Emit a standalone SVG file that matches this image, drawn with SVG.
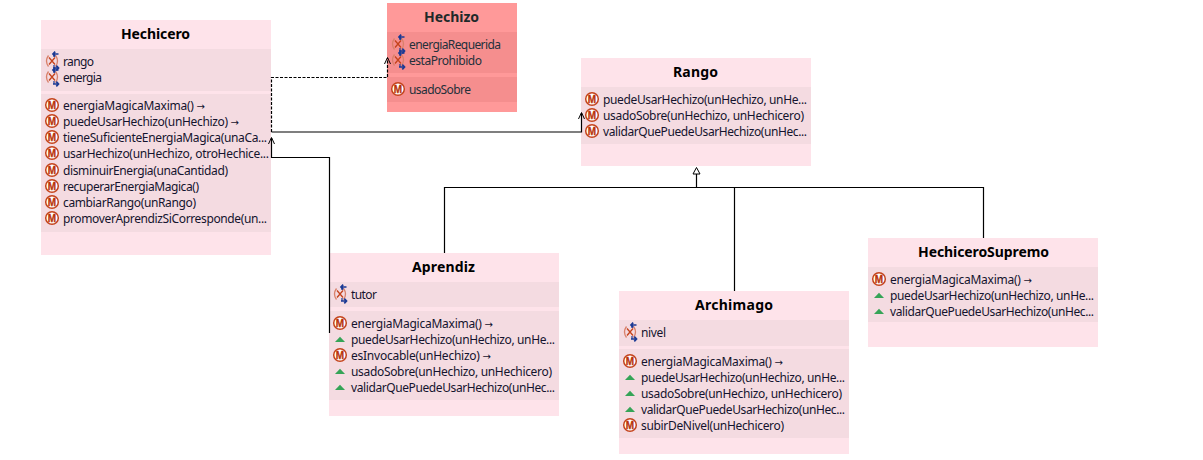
<svg xmlns="http://www.w3.org/2000/svg" xmlns:xlink="http://www.w3.org/1999/xlink" width="1203" height="460" viewBox="0 0 1203 460">
<style>
text{font-family:"Noto Sans","Open Sans",sans-serif;font-size:12px;fill:#14142e;transform:translateY(.5px)}
.t{font-size:14px;font-weight:bold;text-anchor:middle;fill:#000}
.b{fill:#fee3ea}.c{fill:#f4dbe1}.r{fill:#ff9999}.rc{fill:#f58e8e}
.dk{fill:#24303a}
.a{font-family:"DejaVu Sans",sans-serif;font-size:10px}
.ln{fill:none;stroke:#000;stroke-width:1.2}
.ar{fill:none;stroke:#000;stroke-width:1}
.m{font-size:10px;font-weight:bold;text-anchor:middle;fill:#b8320a;stroke:#b8320a;stroke-width:.3;font-family:"Liberation Sans",sans-serif;transform:none}
</style>
<defs>
<g id="im"><circle r="6.300" fill="#fff" stroke="#c4431c" stroke-width="1.500"/><text class="m" y="3.600">M</text></g>
<g id="if"><path d="M-3.500-5.500Q-7.500 0-3.500 5.500M3.500-5.500Q7.500 0 3.500 5.500" fill="none" stroke="#d9806a" stroke-width="1.300"/><path d="M-3-3.500L3 3.500M3-3.500L-3 3.500" stroke="#c4431c" stroke-width="1.300"/><path d="M6.500-7H1M3.200-9.300L1-7L3.200-4.700M1 7H6.500M4.300 4.700L6.500 7L4.300 9.300" fill="none" stroke="#1b3a94" stroke-width="1.700"/><path d="M2-7V-4M2 7V4" stroke="#1b3a94" stroke-width="1.200"/></g>
<path id="ig" d="M-5 3L0-2.200L5 3Z" fill="#35a457"/>
</defs>
<g id="Hechicero">
<rect class="b" x="41" y="20" width="230" height="235"/>
<rect class="c" x="41" y="49" width="230" height="42"/>
<rect class="c" x="41" y="94" width="230" height="138"/>
<text class="t" x="155.500" y="38" textLength="69">Hechicero</text>
<use xlink:href="#if" x="52" y="61"/><text x="63" y="65" textLength="31">rango</text>
<use xlink:href="#if" x="52" y="77"/><text x="63" y="81" textLength="39">energia</text>
<use xlink:href="#im" x="52" y="105"/><text x="63" y="109" textLength="142">energiaMagicaMaxima() <tspan class="a">→</tspan></text>
<use xlink:href="#im" x="52" y="121"/><text x="63" y="125" textLength="176">puedeUsarHechizo(unHechizo) <tspan class="a">→</tspan></text>
<use xlink:href="#im" x="52" y="137"/><text x="63" y="141" textLength="204">tieneSuficienteEnergiaMagica(unaCa...</text>
<use xlink:href="#im" x="52" y="153"/><text x="63" y="157" textLength="206">usarHechizo(unHechizo, otroHechice...</text>
<use xlink:href="#im" x="52" y="170"/><text x="63" y="174" textLength="165">disminuirEnergia(unaCantidad)</text>
<use xlink:href="#im" x="52" y="186"/><text x="63" y="190" textLength="136">recuperarEnergiaMagica()</text>
<use xlink:href="#im" x="52" y="202"/><text x="63" y="206" textLength="133">cambiarRango(unRango)</text>
<use xlink:href="#im" x="52" y="218"/><text x="63" y="222" textLength="204">promoverAprendizSiCorresponde(un...</text>
</g>
<g id="Hechizo">
<rect class="r" x="387" y="3" width="130" height="109"/>
<rect class="rc" x="387" y="32" width="130" height="41"/>
<rect class="rc" x="387" y="77" width="130" height="25"/>
<text class="t" x="451.500" y="21" textLength="55" style="fill:#1e2a2a">Hechizo</text>
<use xlink:href="#if" x="398" y="44"/><text class="dk" x="409" y="48" textLength="92">energiaRequerida</text>
<use xlink:href="#if" x="398" y="60"/><text class="dk" x="409" y="64" textLength="73">estaProhibido</text>
<use xlink:href="#im" x="398" y="89"/><text class="dk" x="409" y="93" textLength="62">usadoSobre</text>
</g>
<g id="Rango">
<rect class="b" x="581" y="58" width="230" height="108"/>
<rect class="c" x="581" y="87" width="230" height="57"/>
<text class="t" x="695.500" y="76" textLength="45">Rango</text>
<use xlink:href="#im" x="592" y="99"/><text x="603" y="103" textLength="204">puedeUsarHechizo(unHechizo, unHe...</text>
<use xlink:href="#im" x="592" y="115"/><text x="603" y="119" textLength="201">usadoSobre(unHechizo, unHechicero)</text>
<use xlink:href="#im" x="592" y="131"/><text x="603" y="135" textLength="204">validarQuePuedeUsarHechizo(unHec...</text>
</g>
<g id="Aprendiz">
<rect class="b" x="329" y="253" width="230" height="163"/>
<rect class="c" x="329" y="282" width="230" height="25"/>
<rect class="c" x="329" y="311" width="230" height="89"/>
<text class="t" x="443.500" y="271" textLength="63">Aprendiz</text>
<use xlink:href="#if" x="340" y="294"/><text x="351" y="298" textLength="26">tutor</text>
<use xlink:href="#im" x="340" y="323"/><text x="351" y="327" textLength="142">energiaMagicaMaxima() <tspan class="a">→</tspan></text>
<use xlink:href="#ig" x="340" y="339"/><text x="351" y="343" textLength="204">puedeUsarHechizo(unHechizo, unHe...</text>
<use xlink:href="#im" x="340" y="355"/><text x="351" y="359" textLength="140">esInvocable(unHechizo) <tspan class="a">→</tspan></text>
<use xlink:href="#ig" x="340" y="371"/><text x="351" y="375" textLength="201">usadoSobre(unHechizo, unHechicero)</text>
<use xlink:href="#ig" x="340" y="387"/><text x="351" y="391" textLength="204">validarQuePuedeUsarHechizo(unHec...</text>
</g>
<g id="Archimago">
<rect class="b" x="619" y="291" width="230" height="163"/>
<rect class="c" x="619" y="320" width="230" height="26"/>
<rect class="c" x="619" y="349" width="230" height="89"/>
<text class="t" x="734" y="309" textLength="78">Archimago</text>
<use xlink:href="#if" x="630" y="332"/><text x="641" y="336" textLength="25">nivel</text>
<use xlink:href="#im" x="630" y="361"/><text x="641" y="365" textLength="142">energiaMagicaMaxima() <tspan class="a">→</tspan></text>
<use xlink:href="#ig" x="630" y="377"/><text x="641" y="381" textLength="204">puedeUsarHechizo(unHechizo, unHe...</text>
<use xlink:href="#ig" x="630" y="393"/><text x="641" y="397" textLength="201">usadoSobre(unHechizo, unHechicero)</text>
<use xlink:href="#ig" x="630" y="409"/><text x="641" y="413" textLength="204">validarQuePuedeUsarHechizo(unHec...</text>
<use xlink:href="#im" x="630" y="425"/><text x="641" y="429" textLength="143">subirDeNivel(unHechicero)</text>
</g>
<g id="HechiceroSupremo">
<rect class="b" x="868" y="238" width="230" height="109"/>
<rect class="c" x="868" y="267" width="230" height="55"/>
<text class="t" x="983.500" y="256" textLength="131">HechiceroSupremo</text>
<use xlink:href="#im" x="879" y="279"/><text x="890" y="283" textLength="142">energiaMagicaMaxima() <tspan class="a">→</tspan></text>
<use xlink:href="#ig" x="879" y="295"/><text x="890" y="299" textLength="204">puedeUsarHechizo(unHechizo, unHe...</text>
<use xlink:href="#ig" x="879" y="311"/><text x="890" y="315" textLength="204">validarQuePuedeUsarHechizo(unHec...</text>
</g>
<g id="connectors">
<path class="ln" stroke-dasharray="3 1.500" d="M271.500 132V77.500H387.500V58"/>
<path class="ar" d="M384.500 64L387.500 57.500L390.500 64"/>
<path class="ln" d="M271.500 132H581.500V113"/>
<path class="ar" d="M578.500 119L581.500 112.500L584.500 119"/>
<path class="ln" d="M329.500 333V157.500H271.500V138"/>
<path class="ar" d="M268.500 144L271.500 137.500L274.500 144"/>
<path class="ln" d="M696.500 174V187.500M444.500 253V187.500H983.500V238M734.500 187.500V291"/>
<path d="M696.500 167.500L693 174H700Z" fill="#fff" stroke="#000"/>
</g>
</svg>
